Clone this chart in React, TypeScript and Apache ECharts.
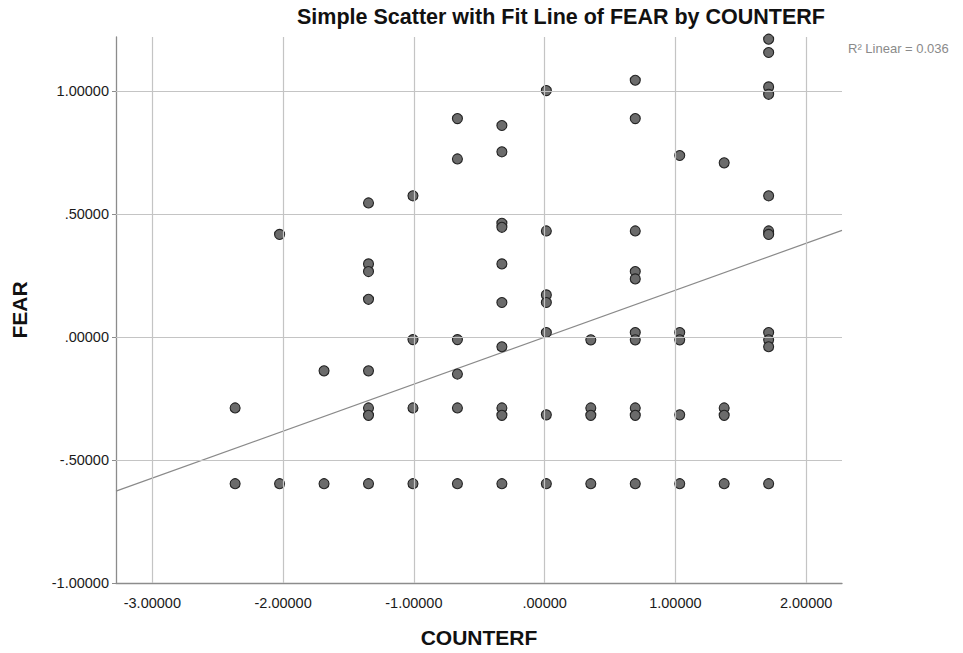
import React, { useEffect, useRef } from "react";
import * as echarts from "echarts";

// COUNTERF levels (x columns)
const counterfLevels = [-2.367, -2.027, -1.687, -1.347, -1.007, -0.667, -0.327, 0.013, 0.353, 0.693, 1.033, 1.373, 1.713];

// FEAR values observed at each COUNTERF level
const fearAtLevel: number[][] = [
  [-0.288, -0.596],
  [0.418, -0.596],
  [-0.137, -0.596],
  [0.546, 0.298, 0.267, 0.154, -0.137, -0.288, -0.318, -0.596],
  [0.575, -0.01, -0.288, -0.596],
  [0.889, 0.725, -0.01, -0.15, -0.288, -0.596],
  [0.861, 0.754, 0.463, 0.447, 0.298, 0.141, -0.039, -0.288, -0.318, -0.596],
  [1.003, 0.432, 0.172, 0.141, 0.019, -0.316, -0.596],
  [-0.011, -0.288, -0.318, -0.596],
  [1.045, 0.889, 0.432, 0.267, 0.237, 0.019, -0.011, -0.288, -0.318, -0.596],
  [0.739, 0.019, -0.011, -0.316, -0.596],
  [0.709, -0.288, -0.318, -0.596],
  [1.212, 1.158, 1.018, 0.988, 0.575, 0.432, 0.418, 0.019, -0.011, -0.039, -0.596],
];

const xTicks = [-3, -2, -1, 0, 1, 2];
const yTicks = [-1, -0.5, 0, 0.5, 1];
const xRange = [-3.278, 2.274];
const yRange = [-1, 1.221];

const fitIntercept = 0.0;
const fitSlope = 0.191;
const rSquaredLabel = "R\u00B2 Linear = 0.036";

const FONT = "'Liberation Sans', Arial, sans-serif";

const fmt = (v: number) => {
  let s = Math.abs(v).toFixed(5);
  if (s.startsWith("0")) s = s.slice(1);
  return (v < 0 ? "-" : "") + s;
};

export default function App() {
  const ref = useRef<HTMLDivElement>(null);
  useEffect(() => {
    document.body.style.margin = "0";
    if (!ref.current) return;
    const chart = echarts.init(ref.current, undefined, { renderer: "svg" });

    const points: number[][] = [];
    counterfLevels.forEach((x, i) => {
      fearAtLevel[i].forEach((y) => points.push([x, y]));
    });

    const fitData = xRange.map((x) => [x, fitIntercept + fitSlope * x]);

    const gridColor = "#c4c4c4";

    chart.setOption({
      animation: false,
      backgroundColor: "#ffffff",
      title: [
        {
          text: "Simple Scatter with Fit Line of FEAR by COUNTERF",
          left: 297,
          top: 6,
          padding: 0,
          textStyle: { fontFamily: FONT, fontSize: 21.5, fontWeight: "bold", color: "#111" },
        },
        {
          text: rSquaredLabel,
          left: 848,
          top: 42,
          padding: 0,
          textStyle: { fontFamily: FONT, fontSize: 13, fontWeight: "normal", color: "#8a8a8a" },
        },
      ],
      grid: { left: 116, right: 121, top: 37, bottom: 70, containLabel: false },
      xAxis: {
        type: "value",
        min: xRange[0],
        max: xRange[1],
        name: "COUNTERF",
        nameLocation: "middle",
        nameGap: 44,
        nameTextStyle: { fontFamily: FONT, fontSize: 21, fontWeight: "bold", color: "#111" },
        axisLine: { show: true, onZero: false, lineStyle: { color: "#8c8c8c", width: 1.3 } },
        axisTick: { show: false, customValues: xTicks },
        axisLabel: {
          customValues: xTicks,
          formatter: fmt,
          margin: 12,
          fontFamily: FONT,
          fontSize: 14.5,
          color: "#1a1a1a",
        },
        splitLine: { show: false },
      },
      yAxis: {
        type: "value",
        min: yRange[0],
        max: yRange[1],
        name: "FEAR",
        nameLocation: "middle",
        nameGap: 86,
        nameRotate: 90,
        nameTextStyle: { fontFamily: FONT, fontSize: 21, fontWeight: "bold", color: "#111" },
        axisLine: { show: true, onZero: false, lineStyle: { color: "#8c8c8c", width: 1.3 } },
        axisTick: { show: true, customValues: yTicks, length: 4, lineStyle: { color: "#8c8c8c" } },
        axisLabel: {
          customValues: yTicks,
          formatter: fmt,
          margin: 7,
          fontFamily: FONT,
          fontSize: 14.5,
          color: "#1a1a1a",
        },
        splitLine: { show: false },
      },
      series: [
        {
          type: "line",
          data: [],
          z: 1,
          silent: true,
          markLine: {
            silent: true,
            symbol: "none",
            label: { show: false },
            animation: false,
            lineStyle: { color: gridColor, width: 1.2, type: "solid" },
            data: [
              ...xTicks.map((v) => ({ xAxis: v })),
              ...yTicks.filter((v) => v !== yRange[0]).map((v) => ({ yAxis: v })),
            ],
          },
        },
        {
          type: "line",
          data: fitData,
          z: 2,
          silent: true,
          showSymbol: false,
          symbol: "none",
          lineStyle: { color: "#8a8a8a", width: 1.2 },
        },
        {
          type: "scatter",
          data: points,
          z: 3,
          symbol: "circle",
          symbolSize: 10,
          itemStyle: { color: "#6b6b6b", borderColor: "#222222", borderWidth: 1.1, opacity: 1 },
        },
      ],
    });

    return () => chart.dispose();
  }, []);

  return <div ref={ref} style={{ width: 963, height: 653 }} />;
}
